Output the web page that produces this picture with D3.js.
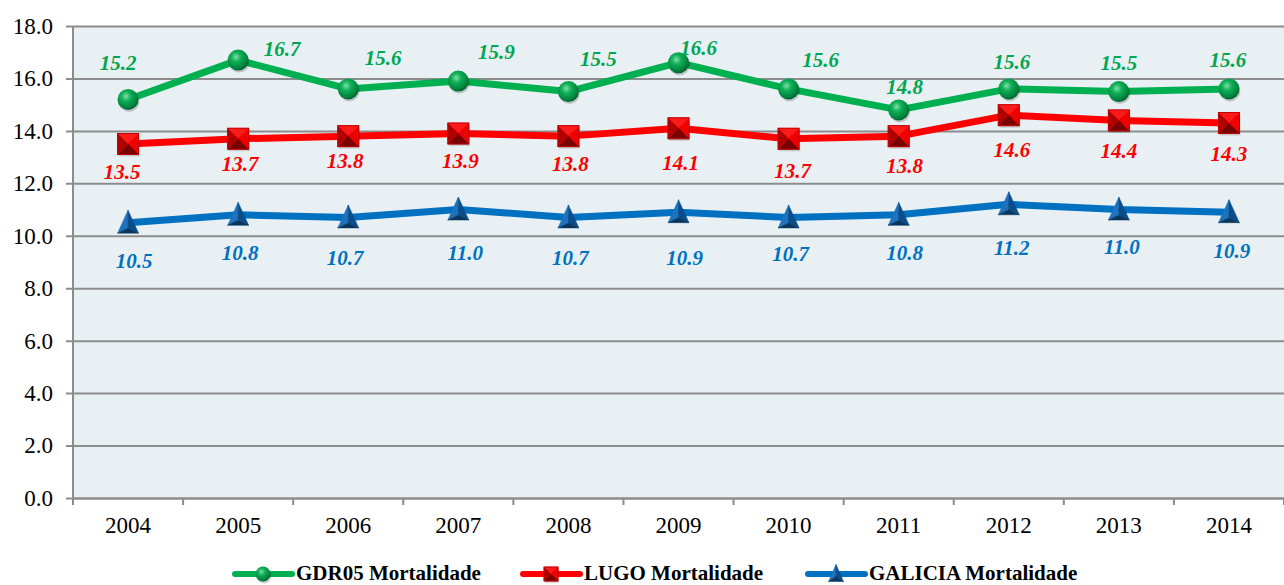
<!DOCTYPE html>
<html>
<head>
<meta charset="utf-8">
<script src="https://cdn.jsdelivr.net/npm/d3@7"></script>
</head>
<body style="margin:0; background:#fff">
<div id="chart"></div>
<script>
// data
const years = [2004, 2005, 2006, 2007, 2008, 2009, 2010, 2011, 2012, 2013, 2014];
const gdr05 = [15.2, 16.7, 15.6, 15.9, 15.5, 16.6, 15.6, 14.8, 15.6, 15.5, 15.6];
const lugo = [13.5, 13.7, 13.8, 13.9, 13.8, 14.1, 13.7, 13.8, 14.6, 14.4, 14.3];
const galicia = [10.5, 10.8, 10.7, 11.0, 10.7, 10.9, 10.7, 10.8, 11.2, 11.0, 10.9];
const yTicks = [0, 2, 4, 6, 8, 10, 12, 14, 16, 18];
const seriesNames = ['GDR05 Mortalidade', 'LUGO Mortalidade', 'GALICIA Mortalidade'];

// label placement, offsets from each point (layout only)
const greenLabelDx = [-10, 44, 35, 38, 30, 20, 32, 6, 3, 0, -1];
const greenLabelDy = [-37, -11, -31, -29, -33, -15, -29, -23, -27, -29, -29];
const redLabelDx = [-6, 2, -3, 2, 2, 2, 4, 6, 3, 0, 0];
const redLabelDy = [28, 25, 25, 27, 28, 34, 32, 30, 34, 30, 31];
const blueLabelDx = [6, 2, -3, 7, 2, 6, 2, 6, 3, 3, 3];
const blueLabelDy = [38, 38, 40, 43, 40, 45, 36, 38, 43, 37, 38];

const serif = '"Liberation Serif"';

const margin = { top: 26, right: 0, bottom: 87, left: 73 },
  width = 1284 - margin.left - margin.right,
  height = 585 - margin.top - margin.bottom;

const svg = d3.select('#chart')
  .append('svg')
  .attr('width', width + margin.left + margin.right)
  .attr('height', height + margin.top + margin.bottom)
  .style('display', 'block');

// gradients for the 3d-looking markers
const defs = svg.append('defs');
const sphere = defs.append('radialGradient')
  .attr('id', 'sphere')
  .attr('cx', '40%').attr('cy', '35%').attr('r', '65%');
sphere.append('stop').attr('offset', '0%').attr('stop-color', '#7fe0a6');
sphere.append('stop').attr('offset', '35%').attr('stop-color', '#10b058');
sphere.append('stop').attr('offset', '85%').attr('stop-color', '#00813c');
sphere.append('stop').attr('offset', '100%').attr('stop-color', '#005f2b');

const g = svg.append('g')
  .attr('transform', `translate(${margin.left} ${margin.top})`);

const x = d3.scaleBand()
  .domain(years)
  .range([0, width]);

const y = d3.scaleLinear()
  .domain([0, 18])
  .range([height, 0]);

const cx = d => x(d) + x.bandwidth() / 2;

// plot background
g.append('rect')
  .attr('width', width)
  .attr('height', height)
  .attr('fill', '#e8f0f4');

// y axis with gridlines
const yAxis = g.append('g')
  .call(d3.axisLeft(y).tickValues(yTicks).tickFormat(d3.format('.1f')).tickSize(7).tickPadding(13));
yAxis.select('.domain').remove();
yAxis.selectAll('.tick line')
  .attr('x1', -7)
  .attr('x2', width)
  .attr('stroke', '#8c8c8c')
  .attr('stroke-width', 2);
yAxis.selectAll('.tick text')
  .style('font-family', serif)
  .style('font-size', '23px')
  .attr('fill', '#000');

// vertical axis line
g.append('line')
  .attr('x1', 0).attr('x2', 0)
  .attr('y1', 0).attr('y2', height)
  .attr('stroke', '#8c8c8c')
  .attr('stroke-width', 2);

// x axis: ticks at the band edges, labels centred
const xAxis = g.append('g')
  .attr('transform', `translate(0 ${height})`)
  .call(d3.axisBottom(x).tickSize(0).tickPadding(19));
xAxis.select('.domain')
  .attr('stroke', '#8c8c8c')
  .attr('stroke-width', 2);
xAxis.selectAll('.tick text')
  .style('font-family', serif)
  .style('font-size', '23px')
  .attr('fill', '#000');
xAxis.selectAll('.edge')
  .data(years.concat(['end']))
  .enter()
  .append('line')
  .attr('x1', (d, i) => i * x.bandwidth())
  .attr('x2', (d, i) => i * x.bandwidth())
  .attr('y1', 0)
  .attr('y2', 7)
  .attr('stroke', '#8c8c8c')
  .attr('stroke-width', 2);

// marker drawers
function drawSphere(sel, r) {
  sel.append('ellipse')
    .attr('cx', 1).attr('cy', 2).attr('rx', r).attr('ry', r)
    .attr('fill', 'rgba(0,0,0,0.18)');
  sel.append('circle')
    .attr('r', r)
    .attr('fill', 'url(#sphere)');
}

function drawPyramid(sel, s) {
  const h = s / 2;
  sel.append('rect')
    .attr('x', -h + 1).attr('y', -h + 2).attr('width', s).attr('height', s)
    .attr('fill', 'rgba(0,0,0,0.15)');
  const faces = [
    { p: [[-h, -h], [h, -h], [0, 0]], c: '#ff1a1a' },
    { p: [[h, -h], [h, h], [0, 0]], c: '#f00000' },
    { p: [[h, h], [-h, h], [0, 0]], c: '#7a0000' },
    { p: [[-h, h], [-h, -h], [0, 0]], c: '#b00000' }
  ];
  sel.selectAll('polygon')
    .data(faces)
    .enter()
    .append('polygon')
    .attr('points', d => d.p.join(' '))
    .attr('fill', d => d.c)
    .attr('stroke', d => d.c)
    .attr('stroke-width', 0.5);
  sel.append('rect')
    .attr('x', -h).attr('y', -h).attr('width', s).attr('height', s)
    .attr('fill', 'none')
    .attr('stroke', '#c00000')
    .attr('stroke-width', 1);
}

function drawTriangle(sel, s) {
  const h = s / 2;
  const top = [0, -h - 2], bl = [-h, h], br = [h, h], inner = [0, h - 5];
  const faces = [
    { p: [top, bl, inner], c: '#1f72bd' },
    { p: [top, inner, br], c: '#0b4d8a' },
    { p: [bl, br, inner], c: '#08365f' }
  ];
  sel.selectAll('polygon')
    .data(faces)
    .enter()
    .append('polygon')
    .attr('points', d => d.p.join(' '))
    .attr('fill', d => d.c)
    .attr('stroke', d => d.c)
    .attr('stroke-width', 0.5);
}

const series = [
  { name: seriesNames[0], values: gdr05, color: '#00b050', label: '#00a651', dx: greenLabelDx, dy: greenLabelDy, marker: s => drawSphere(s, 10.5), legendMarker: s => drawSphere(s, 7.5) },
  { name: seriesNames[1], values: lugo, color: '#ff0000', label: '#ff0000', dx: redLabelDx, dy: redLabelDy, marker: s => drawPyramid(s, 21), legendMarker: s => drawPyramid(s, 14) },
  { name: seriesNames[2], values: galicia, color: '#0070c0', label: '#0070c0', dx: blueLabelDx, dy: blueLabelDy, marker: s => drawTriangle(s, 21), legendMarker: s => drawTriangle(s, 15) }
];

const line = d3.line()
  .x(d => cx(d.year))
  .y(d => y(d.value));

series.forEach(s => {
  const pts = years.map((yr, i) => ({ year: yr, value: s.values[i], i }));

  g.append('path')
    .datum(pts)
    .attr('d', line)
    .attr('fill', 'none')
    .attr('stroke', s.color)
    .attr('stroke-width', 7)
    .attr('stroke-linejoin', 'round');

  g.append('g')
    .selectAll('g')
    .data(pts)
    .enter()
    .append('g')
    .attr('transform', d => `translate(${cx(d.year)} ${y(d.value)})`)
    .each(function () { s.marker(d3.select(this)); });

  g.append('g')
    .selectAll('text')
    .data(pts)
    .enter()
    .append('text')
    .attr('x', d => cx(d.year) + s.dx[d.i])
    .attr('y', d => y(d.value) + s.dy[d.i])
    .attr('dy', '0.35em')
    .attr('text-anchor', 'middle')
    .style('font-family', serif)
    .style('font-size', '21px')
    .style('font-weight', 'bold')
    .style('font-style', 'italic')
    .attr('fill', s.label)
    .text(d => d3.format('.1f')(d.value));
});

// legend along the bottom edge
const legendX = [235, 523, 808];
const legend = svg.append('g');
series.forEach((s, i) => {
  const lg = legend.append('g').attr('transform', `translate(${legendX[i]} 574)`);
  lg.append('line')
    .attr('x1', 0).attr('x2', 57)
    .attr('y1', 0).attr('y2', 0)
    .attr('stroke', s.color)
    .attr('stroke-width', 6)
    .attr('stroke-linecap', 'round');
  const m = lg.append('g').attr('transform', 'translate(28 0)');
  s.legendMarker(m);
  lg.append('text')
    .attr('x', 61)
    .attr('y', 6)
    .style('font-family', serif)
    .style('font-size', '21px')
    .style('font-weight', 'bold')
    .attr('fill', '#000')
    .text(s.name);
});
</script>
</body>
</html>
